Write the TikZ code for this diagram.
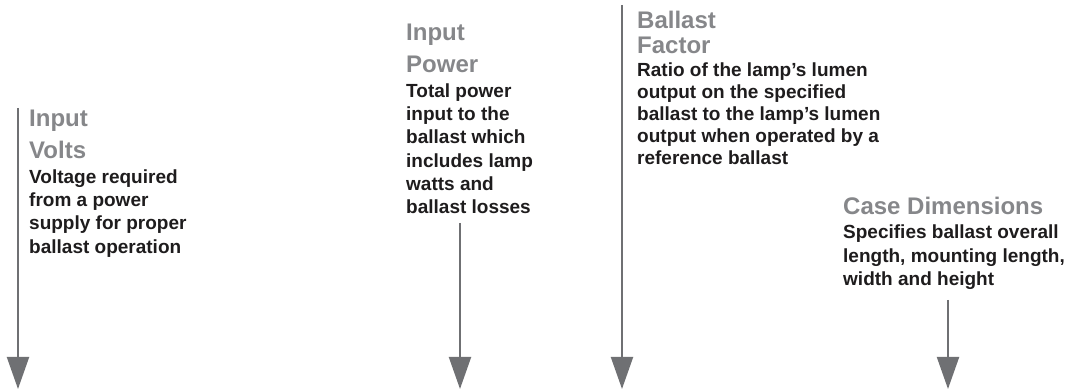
\documentclass[tikz,border=0pt]{standalone}
\usepackage{fontspec}
\setmainfont{Liberation Sans}
\usetikzlibrary{arrows.meta,positioning}

\definecolor{arrowgray}{HTML}{6F7073}
\definecolor{titlegray}{HTML}{86878A}
\definecolor{textblack}{HTML}{1E1C1D}

\tikzset{
  pointer/.style={draw=arrowgray,line width=2pt,-{Triangle[width=22pt,length=32pt]}},
  headline/.style={anchor=north west,inner sep=0pt,align=left,text=titlegray,
    font=\fontsize{24}{32}\selectfont\bfseries},
  blurb/.style={inner sep=0pt,align=left,text=textblack,
    font=\fontsize{19}{23.3}\selectfont\bfseries}
}

\begin{document}
\begin{tikzpicture}[x=1pt,y=1pt]
  \useasboundingbox (0,0) rectangle (1077,390);
  % titles
  \node[headline] (volts) at (29,280) {Input\\Volts};
  \node[headline] (power) at (406,366) {Input\\Power};
  \node[headline,font=\fontsize{24}{25}\selectfont\bfseries] (factor) at (637,379) {Ballast\\Factor};
  \node[headline] (case) at (843,193) {Case Dimensions};
  % descriptions
  \node[blurb,below=10pt of volts.south west,anchor=north west] (voltsdesc) {Voltage required\\from a power\\supply for proper\\ballast operation};
  \node[blurb,below=10pt of power.south west,anchor=north west] (powerdesc) {Total power\\input to the\\ballast which\\includes lamp\\watts and\\ballast losses};
  \node[blurb,font=\fontsize{19}{22}\selectfont\bfseries,below=9pt of factor.south west,anchor=north west] (factordesc) {Ratio of the lamp’s lumen\\output on the specified\\ballast to the lamp’s lumen\\output when operated by a\\reference ballast};
  \node[blurb,below=10pt of case.south west,anchor=north west] (casedesc) {Specifies ballast overall\\length, mounting length,\\width and height};
  % arrows
  \coordinate (voltstop) at (18,282);
  \coordinate (voltstip) at (18,1);
  \coordinate (powertop) at (460,167);
  \coordinate (powertip) at (460,1);
  \coordinate (factortop) at (622,385);
  \coordinate (factortip) at (622,1);
  \coordinate (casetop) at (948,90);
  \coordinate (casetip) at (948,1);
  \draw[pointer] (voltstop) -- (voltstip);
  \draw[pointer] (powertop) -- (powertip);
  \draw[pointer] (factortop) -- (factortip);
  \draw[pointer] (casetop) -- (casetip);
\end{tikzpicture}
\end{document}
